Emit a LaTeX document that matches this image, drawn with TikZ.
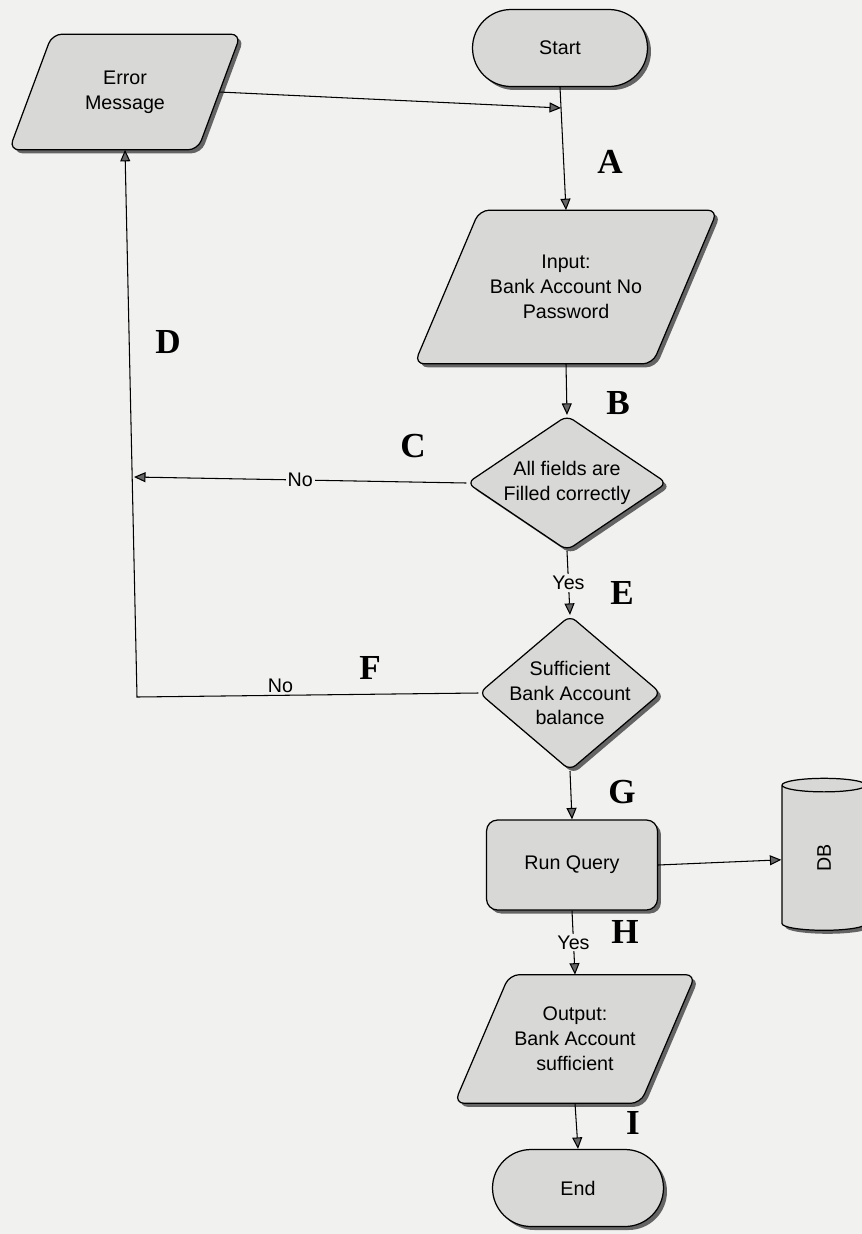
\documentclass[tikz,border=0pt]{standalone}
\usepackage{fontspec}
\setmainfont{Liberation Sans}
\newfontfamily\lblfont{Liberation Serif}
\usetikzlibrary{shapes.geometric,shapes.misc,arrows.meta,shadows,backgrounds}
\definecolor{paper}{RGB}{241,241,239}
\definecolor{boxfill}{RGB}{216,216,214}
\definecolor{shade}{RGB}{100,100,100}
\tikzset{
  txt/.style={align=center, font=\fontsize{11.2}{14.2}\selectfont},
  shadowed/.style={drop shadow={shadow xshift=0.07cm, shadow yshift=-0.07cm, fill=shade, opacity=1}},
  base/.style={txt, draw=black, line width=0.7pt, fill=boxfill, shadowed},
  term/.style={base, rounded rectangle, minimum width=3.5cm, minimum height=1.54cm, inner sep=0pt},
  iotext/.style={txt, rectangle, inner sep=0pt},
  ioline/.style={draw=black, line width=0.7pt, fill=boxfill, rounded corners=0.2cm, shadowed},
  decision/.style={base, diamond, rounded corners=0.15cm, inner sep=0pt, shape aspect=1.5},
  process/.style={base, rectangle, rounded corners=0.22cm, minimum width=3.42cm, minimum height=1.8cm},
  conn/.style={line width=0.6pt, -{Triangle[length=0.23cm,width=0.2cm,fill=black!60]}},
  lbl/.style={font=\lblfont\bfseries\fontsize{20}{20}\selectfont, inner sep=0pt},
  ans/.style={font=\fontsize{11.2}{12}\selectfont, fill=paper, inner sep=1pt}
}
% parallelogram drawn round a text node: #1 node name, #2 half slant
\newcommand\ioshape[2]{%
  \path[ioline] ([xshift=#2]#1.north west) -- ([xshift=#2]#1.north east)
     -- ([xshift=-#2]#1.south east) -- ([xshift=-#2]#1.south west) -- cycle;}
\begin{document}
\begin{tikzpicture}[x=0.02cm, y=-0.02cm]
\begin{scope}[on background layer]
\fill[paper] (0,0) rectangle (862,1234);
\end{scope}
\useasboundingbox (0,0) rectangle (862,1234);

% nodes
\node[term] (start) at (560,48) {Start};
\node[iotext, minimum width=3.76cm, minimum height=2.3cm] (err) at (125,92) {Error\\Message};
\node[iotext, minimum width=4.75cm, minimum height=3.06cm] (inp) at (566,287) {Input:\\Bank Account No\\Password};
\node[decision, minimum width=4.0cm, minimum height=2.7cm] (d1) at (567,483) {All fields are\\Filled correctly};
\node[decision, minimum width=3.64cm, minimum height=3.1cm, inner sep=-0.16cm, shape aspect=1.3] (d2) at (570,693) {Sufficient\\Bank Account\\balance};
\node[process] (rq) at (572,865) {Run Query};
\node[base, cylinder, rotate=90, minimum width=1.68cm, minimum height=3.04cm, aspect=1.0, inner sep=0pt] (db) at (824,858) {DB};
\node[iotext, minimum width=3.71cm, minimum height=2.56cm] (out) at (575,1039) {Output:\\Bank Account\\sufficient};
\node[term, minimum width=3.42cm] (end) at (578,1188) {End};

\begin{scope}[on background layer]
\ioshape{err}{0.43cm}
\ioshape{inp}{0.65cm}
\ioshape{out}{0.55cm}
\end{scope}

% junctions
\coordinate (j1) at (561,108);
\coordinate (j2) at (134,477);
\coordinate (j3) at (137,697);

% connectors
\draw[conn] (start.south) -- (inp.north);
\draw[conn] (err.east) -- (j1);
\draw[conn] (inp.south) -- (d1.north);
\draw[conn] (d1.south) -- node[ans]{Yes} (d2.north);
\draw[conn] (d2.south) -- (rq.north);
\draw[conn] (rq.east) -- (db);
\draw[conn] (rq.south) -- node[ans]{Yes} (out.north);
\draw[conn] (out.south) -- (end.north);
\draw[conn] (d1.west) -- node[ans]{No} (j2);
\draw[conn] (d2.west) -- node[ans, fill=none, above, pos=0.58]{No} (j3) -- (err.south);

% letters
\node[lbl] (la) at (610,162) {A};
\node[lbl] (lb) at (618,403) {B};
\node[lbl] (lc) at (413,446) {C};
\node[lbl] (ld) at (168,342) {D};
\node[lbl] (le) at (622,593) {E};
\node[lbl] (lf) at (370,668) {F};
\node[lbl] (lg) at (622,792) {G};
\node[lbl] (lh) at (625,932) {H};
\node[lbl] (li) at (633,1123) {I};
\end{tikzpicture}
\end{document}
